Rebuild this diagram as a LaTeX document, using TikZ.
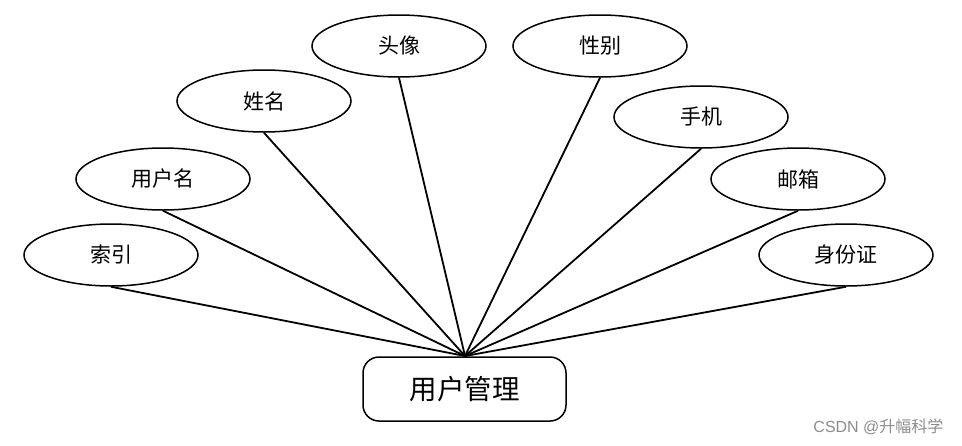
\documentclass[tikz,border=0pt]{standalone}
\usepackage{fontspec}
\usetikzlibrary{shapes.geometric}
\setmainfont{Noto Sans CJK SC}
\newfontfamily\wmfont{Liberation Sans}
\newfontfamily\wmcjk{Noto Sans CJK SC}
\begin{document}
\begin{tikzpicture}[x=1pt,y=-1pt,
  attr/.style={draw=black,line width=1.5pt,ellipse,minimum width=174pt,minimum height=62pt,inner sep=0pt,font=\fontsize{21}{25}\selectfont,fill=white},
  entity/.style={draw=black,line width=1.5pt,rounded corners=16pt,minimum width=203pt,minimum height=64pt,inner sep=0pt,font=\fontsize{27.5}{32}\selectfont,fill=white},
  link/.style={line width=1.8pt}]
\useasboundingbox (0,0) rectangle (962,445);
\node[attr] (suoyin) at (111,255) {索引};
\node[attr] (yhm) at (163,179) {用户名};
\node[attr] (xm) at (264,101) {姓名};
\node[attr] (tx) at (399,46) {头像};
\node[attr] (xb) at (600,46) {性别};
\node[attr] (sj) at (701,117) {手机};
\node[attr] (yx) at (798,179) {邮箱};
\node[attr] (sfz) at (846,255) {身份证};
\node[entity] (yhgl) at (464.5,389) {用户管理};
\coordinate (hub) at (465,356);
\foreach \n in {suoyin,yhm,xm,tx,xb,sj,yx,sfz}{
  \draw[link] (\n.south) -- (hub);
}
\node[anchor=east,text=black!45,font=\fontsize{16}{19}\selectfont] (wm) at (947,427) {{\wmfont CSDN @}{\wmcjk 升幅科学}};
\end{tikzpicture}
\end{document}
